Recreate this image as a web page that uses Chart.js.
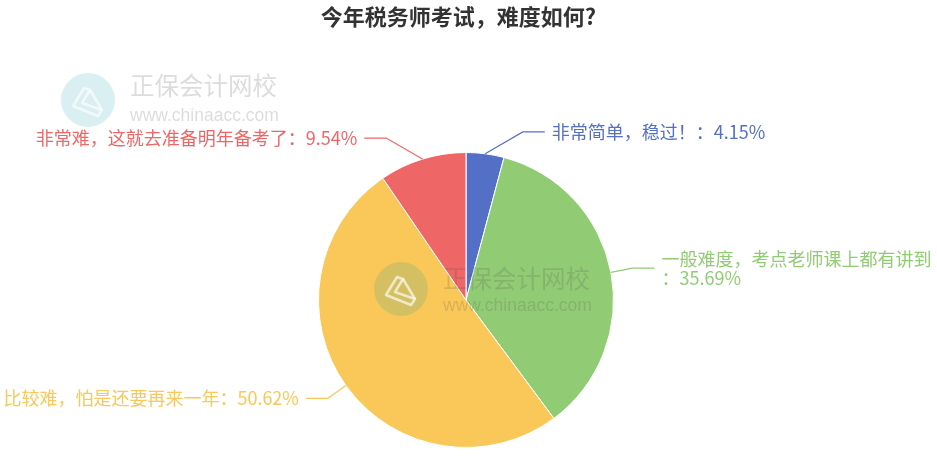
<!DOCTYPE html>
<html>
<head>
<meta charset="utf-8">
<script src="https://cdn.jsdelivr.net/npm/chart.js@4"></script>
<style>
  body { margin: 0; background: #fff; }
  canvas { display: block; }
</style>
</head>
<body>
<canvas id="chartCanvas" width="937" height="460"></canvas>
<script>
const chartTitle = "今年税务师考试，难度如何?";
const categories = [
  "非常简单，稳过！",
  "一般难度，考点老师课上都有讲到",
  "比较难，怕是还要再来一年",
  "非常难，这就去准备明年备考了"
];
const percentValues = [4.15, 35.69, 50.62, 9.54];
const sliceColors = ["#5470c6", "#91cc75", "#fac858", "#ee6666"];
const watermarkName = "正保会计网校";
const watermarkUrl = "www.chinaacc.com";

const FONT = '"Noto Sans CJK SC", "Noto Sans", sans-serif';

// title + outside labels with leader lines, echarts-ish
const pieLabels = {
  id: "pieLabels",
  afterDraw(chart) {
    const ctx = chart.ctx;
    const W = chart.width;

    ctx.save();
    ctx.fillStyle = "#333";
    ctx.font = "bold 22px " + FONT;
    ctx.textAlign = "center";
    ctx.textBaseline = "middle";
    ctx.fillText(chartTitle, W / 2 - 10, 17);
    ctx.restore();

    const meta = chart.getDatasetMeta(0);
    meta.data.forEach((arc, i) => {
      const mid = (arc.startAngle + arc.endAngle) / 2;
      const R = arc.outerRadius;
      const cos = Math.cos(mid), sin = Math.sin(mid);
      const px = arc.x + R * cos, py = arc.y + R * sin;
      let ex = arc.x + (R + 22) * cos, ey = arc.y + (R + 22) * sin;
      const side = cos >= 0 ? 1 : -1;
      const dy = Math.abs(ey - py);
      // near the top/bottom, bend the first segment outwards
      if (Math.abs(sin) > 0.9 && dy / Math.abs(ex - px) > 0.58) ex = px + side * dy / 0.58;
      const hx = ex + side * 22;

      ctx.save();
      ctx.strokeStyle = sliceColors[i];
      ctx.lineWidth = 1.2;
      ctx.beginPath();
      ctx.moveTo(px, py);
      ctx.lineTo(ex, ey);
      ctx.lineTo(hx, ey);
      ctx.stroke();

      const text = categories[i] + "：" + percentValues[i].toFixed(2) + "%";
      ctx.font = "18px " + FONT;
      ctx.fillStyle = sliceColors[i];
      ctx.textBaseline = "middle";
      const tx = hx + side * 7;
      const maxW = side > 0 ? W - tx - 4 : tx;
      // char wrap
      const lines = [];
      let cur = "";
      for (const ch of text) {
        if (ctx.measureText(cur + ch).width > maxW && cur) {
          lines.push(cur);
          cur = ch;
        } else cur += ch;
      }
      lines.push(cur);
      const lh = 19;
      const y0 = ey - (lines.length - 1) * lh / 2;
      ctx.textAlign = side > 0 ? "left" : "right";
      lines.forEach((l, k) => ctx.fillText(l, tx, y0 + k * lh));
      ctx.restore();
    });

    drawWatermark(ctx, 88, 100, 130, 86, 116);
    drawWatermark(ctx, 401, 289, 443, 279, 306);
  }
};

function drawWatermark(ctx, cx, cy, tx, y1, y2) {
  ctx.save();
  ctx.fillStyle = "rgba(0,150,170,0.15)";
  ctx.beginPath();
  ctx.arc(cx, cy, 27, 0, Math.PI * 2);
  ctx.fill();
  // rough megaphone icon
  ctx.strokeStyle = "rgba(255,255,255,0.65)";
  ctx.lineWidth = 2.5;
  ctx.lineJoin = "round";
  ctx.beginPath();
  ctx.moveTo(cx - 15, cy + 6);
  ctx.lineTo(cx - 4, cy - 12);
  ctx.lineTo(cx + 2, cy - 10);
  ctx.lineTo(cx - 6, cy + 3);
  ctx.lineTo(cx + 14, cy + 10);
  ctx.lineTo(cx + 10, cy + 16);
  ctx.closePath();
  ctx.stroke();
  ctx.beginPath();
  ctx.moveTo(cx + 2, cy - 10);
  ctx.lineTo(cx + 14, cy + 10);
  ctx.stroke();
  ctx.fillStyle = "rgba(80,80,80,0.2)";
  ctx.textAlign = "left";
  ctx.textBaseline = "middle";
  ctx.font = "24.5px " + FONT;
  ctx.fillText(watermarkName, tx, y1);
  ctx.font = '17.5px "Liberation Sans", Arial, sans-serif';
  ctx.fillText(watermarkUrl, tx, y2);
  ctx.restore();
}

new Chart(document.getElementById("chartCanvas"), {
  type: "pie",
  data: {
    labels: categories,
    datasets: [{
      data: percentValues,
      backgroundColor: sliceColors,
      borderColor: "#fff",
      borderWidth: 1
    }]
  },
  options: {
    responsive: false,
    animation: false,
    layout: { padding: { top: 152, bottom: 12, left: 318, right: 323 } },
    plugins: {
      legend: { display: false },
      tooltip: { enabled: false },
      title: { display: false }
    }
  },
  plugins: [pieLabels]
});
</script>
</body>
</html>
